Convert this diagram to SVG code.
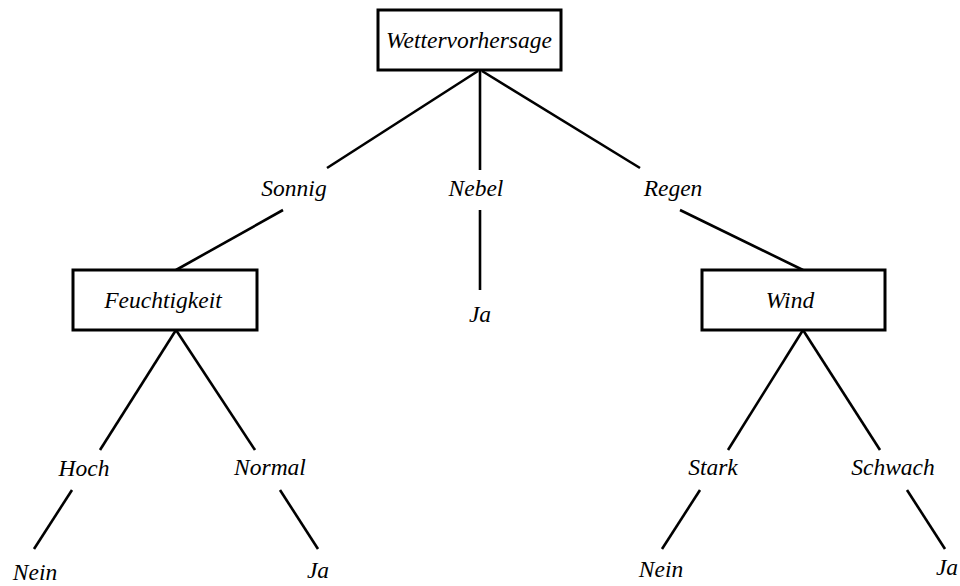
<svg xmlns="http://www.w3.org/2000/svg" width="960" height="586" viewBox="0 0 960 586">
<style>
.box{fill:#fff;stroke:#000;stroke-width:3}
.t{font-family:"Liberation Serif","DejaVu Serif",serif;font-style:italic;font-size:23.5px;fill:#000;text-anchor:middle}
.c line{stroke:#000;stroke-width:2.6;stroke-linecap:butt}
</style>
<rect width="960" height="586" fill="#fff"/>
<g class="c" id="connectors">
<line x1="478" y1="71" x2="327" y2="168"/>
<line x1="480" y1="71" x2="480" y2="170"/>
<line x1="482" y1="71" x2="640" y2="168"/>
<line x1="283" y1="210" x2="176" y2="270"/>
<line x1="480" y1="210" x2="480" y2="290"/>
<line x1="680" y1="210" x2="803" y2="270"/>
<line x1="176" y1="330" x2="100" y2="450"/>
<line x1="176" y1="330" x2="255" y2="450"/>
<line x1="803" y1="330" x2="728" y2="450"/>
<line x1="803" y1="330" x2="880" y2="450"/>
<line x1="72" y1="490" x2="34" y2="549"/>
<line x1="280" y1="490" x2="318" y2="549"/>
<line x1="700" y1="490" x2="662" y2="549"/>
<line x1="907" y1="490" x2="945" y2="549"/>
</g>
<g id="root"><rect class="box" x="378" y="10" width="183" height="60"/><text class="t" x="469" y="48">Wettervorhersage</text></g>
<g id="sonnig"><text class="t" x="294" y="196">Sonnig</text></g>
<g id="nebel"><text class="t" x="476" y="196">Nebel</text></g>
<g id="regen"><text class="t" x="673" y="196">Regen</text></g>
<g id="feuchtigkeit"><rect class="box" x="73" y="270" width="184" height="60"/><text class="t" x="163" y="308">Feuchtigkeit</text></g>
<g id="ja1"><text class="t" x="480" y="322">Ja</text></g>
<g id="wind"><rect class="box" x="702" y="270" width="183" height="60"/><text class="t" x="790" y="308">Wind</text></g>
<g id="hoch"><text class="t" x="84" y="476">Hoch</text></g>
<g id="normal"><text class="t" x="270" y="475">Normal</text></g>
<g id="stark"><text class="t" x="713" y="475">Stark</text></g>
<g id="schwach"><text class="t" x="893" y="475">Schwach</text></g>
<g id="nein1"><text class="t" x="35" y="580">Nein</text></g>
<g id="ja2"><text class="t" x="318" y="578">Ja</text></g>
<g id="nein2"><text class="t" x="661" y="577">Nein</text></g>
<g id="ja3"><text class="t" x="947" y="575">Ja</text></g>
</svg>
